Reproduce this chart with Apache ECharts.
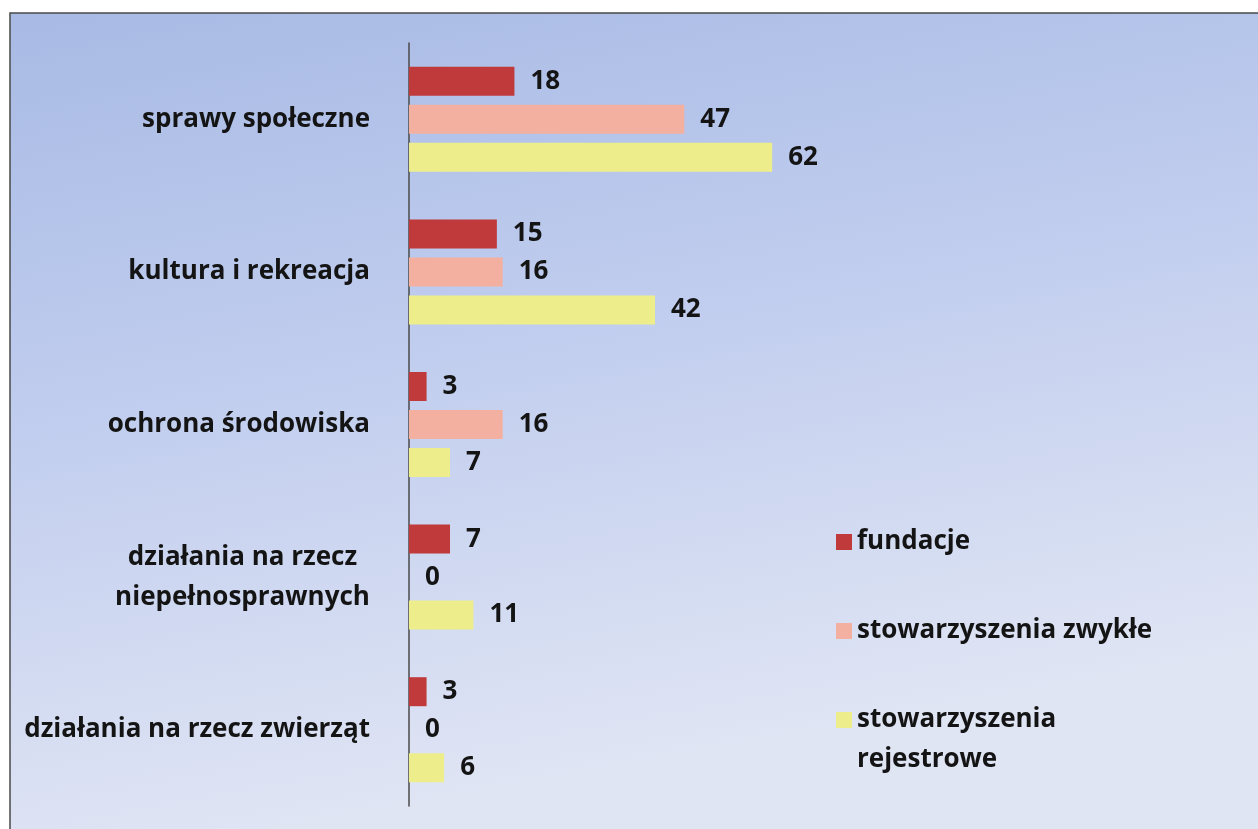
<!DOCTYPE html>
<html>
<head>
<meta charset="utf-8">
<script src="https://cdn.jsdelivr.net/npm/echarts@6/dist/echarts.min.js"></script>
<style>
  html, body { margin: 0; padding: 0; background: #fff; }
  #chart { width: 1258px; height: 829px; }
</style>
</head>
<body>
<div id="chart"></div>
<script>
// categories from top to bottom
const categories = [
  'sprawy społeczne',
  'kultura i rekreacja',
  'ochrona środowiska',
  'działania na rzecz\nniepełnosprawnych',
  'działania na rzecz zwierząt'
]
const seriesNames = ['fundacje', 'stowarzyszenia zwykłe', 'stowarzyszenia rejestrowe']
const fundacje = [18, 15, 3, 7, 3]
const zwykle = [47, 16, 16, 0, 0]
const rejestrowe = [62, 42, 7, 11, 6]
const colors = ['#c0393b', '#f3b0a0', '#eeed8b']

const font = '"Open Sans", "Noto Sans", sans-serif'
const fontSize = 26
const textColor = '#141414'

// width of the longest line, used to centre the two-line category label
function textWidth(str) {
  let ctx = document.createElement('canvas').getContext('2d')
  ctx.font = 'bold ' + fontSize + 'px ' + font
  return Math.ceil(ctx.measureText(str).width)
}

let chart = echarts.init(document.getElementById('chart'))

let barSeries = [fundacje, zwykle, rejestrowe].map(function(data, i) {
  return {
    name: seriesNames[i],
    type: 'bar',
    data: data,
    barWidth: 29,
    barGap: '31%',
    itemStyle: { color: colors[i] },
    label: {
      show: true,
      position: 'right',
      distance: 16,
      fontFamily: font,
      fontWeight: 'bold',
      fontSize: fontSize,
      color: textColor
    }
  }
})

function legendBox(name, top, lh, fmt) {
  return {
    orient: 'vertical',
    left: 831,
    top: top,
    icon: 'rect',
    itemWidth: 16,
    itemHeight: 16,
    selectedMode: false,
    data: [name],
    formatter: fmt,
    textStyle: {
      fontFamily: font,
      fontWeight: 'bold',
      fontSize: fontSize,
      color: textColor,
      lineHeight: lh
    }
  }
}

let option = {
  animation: false,
  backgroundColor: '#ffffff',
  graphic: [{
    type: 'rect',
    z: -10,
    shape: { x: 10, y: 13, width: 1270, height: 840 },
    style: {
      fill: new echarts.graphic.LinearGradient(0, 0, 0.12, 1, [
        { offset: 0, color: '#a8bae4' },
        { offset: 0.45, color: '#bfccee' },
        { offset: 1, color: '#e0e5f4' }
      ]),
      stroke: '#4a4a4a',
      lineWidth: 1.5
    }
  }],
  grid: {
    left: 409,
    top: 43,
    width: 410,
    height: 763
  },
  legend: [
    legendBox('fundacje', 519, 36),
    legendBox('stowarzyszenia zwykłe', 608, 36),
    // blank first line keeps the icon level with "stowarzyszenia"
    legendBox('stowarzyszenia rejestrowe', 655, 40, function() {
      return '\nstowarzyszenia\nrejestrowe'
    })
  ],
  xAxis: {
    type: 'value',
    min: 0,
    max: 70,
    show: false
  },
  yAxis: {
    type: 'category',
    data: categories,
    inverse: true,
    axisLine: { show: true, lineStyle: { color: '#4a4a4a', width: 1.5 } },
    axisTick: { show: false },
    axisLabel: {
      margin: 39,
      fontFamily: font,
      fontWeight: 'bold',
      fontSize: fontSize,
      color: textColor,
      lineHeight: 40,
      formatter: function(val) {
        if (val.indexOf('\n') < 0) return val
        let lines = val.split('\n')
        return lines.map(function(l) { return '{c|' + l + '}' }).join('\n')
      },
      rich: {
        c: {
          width: Math.max(textWidth('działania na rzecz'), textWidth('niepełnosprawnych')),
          align: 'center',
          fontFamily: font,
          fontWeight: 'bold',
          fontSize: fontSize,
          color: textColor,
          lineHeight: 40
        }
      }
    }
  },
  series: barSeries
}

chart.setOption(option)
</script>
</body>
</html>
